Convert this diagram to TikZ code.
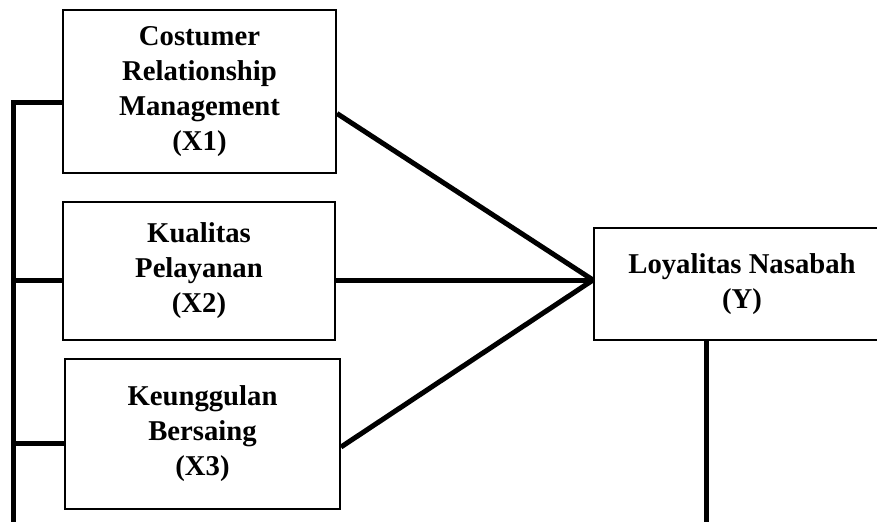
\documentclass[tikz,border=0pt]{standalone}
\usepackage{fontspec}
\setmainfont{Liberation Serif}
\usepackage{tikz}
\usetikzlibrary{positioning,calc}
\newcommand\boxfont{\fontsize{14.35}{17.5}\selectfont\bfseries}
\tikzset{
  % kotak variabel
  varbox/.style={draw=black,line width=1pt,fill=white,align=center,
                 inner sep=2pt,font=\boxfont},
  lnk/.style={draw=black,line width=2.5pt},
}

\begin{document}
\begin{tikzpicture}[x=0.5pt,y=-0.5pt]
\useasboundingbox (0,0) rectangle (877,521);
  \node[varbox,minimum width=136.5pt,minimum height=81.5pt] (x1) at (199.5,91.5)
    {Costumer\\Relationship\\Management\\(X1)};
  \node[varbox,minimum width=136pt,minimum height=69pt] (x2) at (199,271)
    {Kualitas\\Pelayanan\\(X2)};
  \node[varbox,minimum width=137.5pt,minimum height=75pt] (x3) at (202.5,434)
    {Keunggulan\\Bersaing\\(X3)};
  \node[varbox,minimum width=148pt,minimum height=56pt] (y) at (742,284)
    {Loyalitas Nasabah\\(Y)};
  \coordinate (hub) at (593,280);
  \coordinate (bus) at (13.5,530);
  \coordinate (t1) at ([yshift=-5.25pt]x1.west);
  \coordinate (t2) at ([yshift=-4.5pt]x2.west);
  \coordinate (t3) at ([yshift=-4.5pt]x3.west);
  % garis kiri
  \draw[lnk] (t1) -| (bus);
  \draw[lnk] (t2) -- (bus |- t2);
  \draw[lnk] (t3) -- (bus |- t3);
  % ke Y
  \draw[lnk] ([yshift=-11pt]x1.east) -- (hub);
  \draw[lnk] ([yshift=-4.5pt]x2.east) -- (hub);
  \draw[lnk] ([yshift=-6.5pt]x3.east) -- (hub);
  \draw[lnk] (y.south -| 706,0) -- (706,530);
\end{tikzpicture}
\end{document}
